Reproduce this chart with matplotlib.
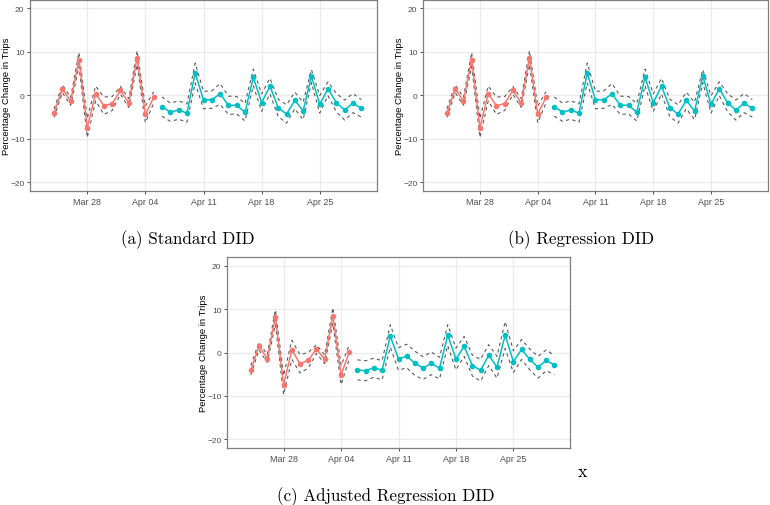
import matplotlib
matplotlib.use("Agg")
import matplotlib.pyplot as plt
import matplotlib.dates as mdates
import numpy as np

# days from Mar 24 to Apr 30 (2020)
dates = np.arange(np.datetime64("2020-03-24"), np.datetime64("2020-05-01"))
n_pre = 13  # Mar 24 .. Apr 05 are "pre" (red), rest "post" (cyan)

# (a) Standard DID
a_est = [-4.1, 1.5, -1.4, 8.2, -7.5, 0.4, -2.4, -1.9, 1.1, -1.8, 8.6, -4.4, -0.5,
         -2.6, -3.9, -3.4, -4.1, 5.1, -1.1, -1.0, 0.3, -2.3, -2.3, -3.9, 4.1,
         -1.7, 2.1, -2.9, -4.3, -1.2, -3.6, 4.4, -2.1, 1.5, -1.7, -3.4, -1.8, -3.0]
a_hw = [1.0, 0.9, 0.9, 1.6, 2.2, 1.7, 2.0, 1.6, 0.9, 1.0, 1.6, 1.9, 1.3,
        2.2, 2.1, 2.1, 2.1, 2.3, 2.0, 2.0, 2.4, 2.1, 2.0, 2.0, 1.9,
        2.0, 1.8, 2.0, 2.1, 1.9, 2.0, 1.5, 2.0, 1.6, 2.1, 2.3, 2.2, 2.0]

# (b) Regression DID
b_est = list(a_est)
b_hw = list(a_hw)

# (c) Adjusted Regression DID
c_est = [-4.1, 1.5, -1.4, 8.1, -7.5, 0.6, -2.6, -1.8, 0.8, -1.6, 8.5, -5.2, 0.1,
         -4.0, -4.2, -3.5, -4.1, 3.8, -1.5, -0.8, -2.5, -3.6, -2.5, -3.6, 4.0,
         -1.5, 1.4, -3.0, -4.1, -0.6, -3.4, 4.0, -2.1, 0.7, -1.6, -3.4, -1.8, -2.9]
c_hw = [1.1, 0.9, 0.9, 1.7, 2.2, 2.2, 2.1, 1.8, 1.0, 1.0, 1.8, 2.2, 1.6,
        2.3, 2.3, 2.2, 2.2, 2.6, 2.6, 2.7, 2.8, 2.6, 2.6, 2.5, 2.4,
        2.5, 2.3, 2.4, 2.5, 2.4, 2.5, 3.1, 2.5, 2.3, 2.4, 2.5, 2.4, 2.2]

captions = ["(a) Standard DID", "(b) Regression DID", "(c) Adjusted Regression DID"]
yticks = [-20, -10, 0, 10, 20]
xticks = np.array(["2020-03-28", "2020-04-04", "2020-04-11", "2020-04-18", "2020-04-25"],
                  dtype="datetime64[D]")

RED = "#F8766D"
CYAN = "#00BFC4"
W, H = 770, 506

fig = plt.figure(figsize=(W / 100, H / 100), dpi=100)


def px_axes(left, top, right, bottom):
    ax = fig.add_axes([left / W, 1 - bottom / H, (right - left) / W, (bottom - top) / H])
    # y label: right edge of the rotated text ~18.5 px left of the frame
    ax.yaxis.set_label_coords(-18.5 / (right - left), 0.5)
    return ax


def draw_panel(ax, est, hw):
    est = np.array(est)
    hw = np.array(hw)
    x = dates.astype("datetime64[D]").astype(object)
    for sl, col in [(slice(0, n_pre), RED), (slice(n_pre, None), CYAN)]:
        ax.plot(x[sl], est[sl] + hw[sl], ls=(0, (3, 3)), color="#5a5a5a", lw=0.8, zorder=3)
        ax.plot(x[sl], est[sl] - hw[sl], ls=(0, (3, 3)), color="#5a5a5a", lw=0.8, zorder=3)
        ax.plot(x[sl], est[sl], color=col, lw=1.1, zorder=4)
        ax.plot(x[sl], est[sl], "o", color=col, ms=4, mec="none", zorder=5)
    ref = mdates.date2num(np.datetime64("2020-03-28").astype(object))
    ax.set_xlim(ref - 6.9, ref + 34.9)
    ax.set_ylim(-22, 22)
    ax.set_yticks(yticks)
    ax.set_yticklabels(["\u221220", "\u221210", "0", "10", "20"])
    ax.set_xticks(xticks.astype(object))
    ax.xaxis.set_major_formatter(mdates.DateFormatter("%b %d"))
    ax.grid(True, color="#EBEBEB", lw=0.9, zorder=0)
    ax.set_axisbelow(True)
    for s in ax.spines.values():
        s.set_color("#7f7f7f")
        s.set_linewidth(0.9)
    ax.tick_params(axis="x", labelsize=6.4, pad=2)
    ax.tick_params(axis="y", labelsize=6.0, pad=1.5)
    ax.tick_params(axis="both", labelcolor="#4D4D4D", color="#333333", length=2.5, width=0.6)
    for lab in ax.get_xticklabels() + ax.get_yticklabels():
        lab.set_family("Liberation Sans")
    ax.set_ylabel("Percentage Change in Trips", family="Liberation Sans", fontsize=6.8)


ax_a = px_axes(30, 0.5, 377, 192)
ax_b = px_axes(423, 0.5, 768, 192)
ax_c = px_axes(227, 258, 570, 449)

draw_panel(ax_a, a_est, a_hw)
draw_panel(ax_b, b_est, b_hw)
draw_panel(ax_c, c_est, c_hw)

serif = ["cmr10", "DejaVu Serif"]
fig.text(188 / W, 1 - 240 / H, captions[0], ha="center", va="center", family=serif, fontsize=12.3)
fig.text(581 / W, 1 - 240 / H, captions[1], ha="center", va="center", family=serif, fontsize=12.3)
fig.text(386 / W, 1 - 497 / H, captions[2], ha="center", va="center", family=serif, fontsize=12.3)
fig.text(583 / W, 1 - 472 / H, "x", ha="center", va="center", family=serif, fontsize=13)

fig.savefig("out.png", dpi=100)
plt.close(fig)
